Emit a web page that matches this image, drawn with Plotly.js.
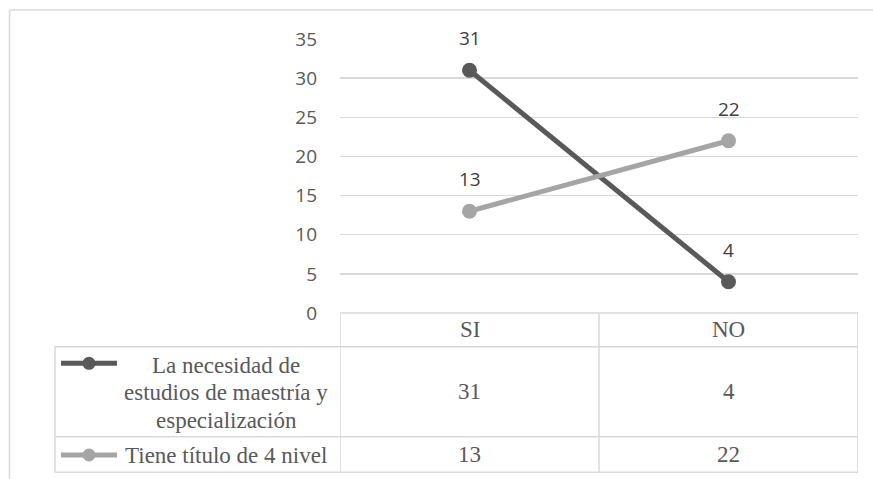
<!DOCTYPE html>
<html>
<head>
<meta charset="utf-8">
<script src="https://cdn.plot.ly/plotly-3.0.1.min.js"></script>
<style>
  html, body { margin: 0; padding: 0; background: #ffffff; }
  #chart { width: 873px; height: 479px; }
</style>
</head>
<body>
<div id="chart"></div>
<script>
// ---- Data ----
const categories = ["SI", "NO"];
const seriesNames = ["La necesidad de estudios de maestría y especialización", "Tiene título de 4 nivel"];
const legendLabelLines = [
  ["La necesidad de", "estudios de maestría y", "especialización"],
  ["Tiene título de 4 nivel"]
];
const necesidadValues = [31, 4];
const tituloValues = [13, 22];
const yTickValues = [0, 5, 10, 15, 20, 25, 30, 35];
const seriesValues = [necesidadValues, tituloValues];
const seriesColors = ["#595959", "#A5A5A5"];

// ---- Layout geometry (pixels) ----
const W = 873, H = 479;
const plotL = 340, plotR = 858, plotT = 39, plotB = 313;
const px = x => (x - plotL) / (plotR - plotL);
const py = y => (plotB - y) / (plotB - plotT);

const gridColor = "#D9D9D9";
const textColor = "#595959";
const serif = "Liberation Serif, Times New Roman, serif";
const sans = "Open Sans, Liberation Sans, sans-serif";

// table rows (pixel y)
const headerTop = 313, headerBot = 346.7, row1Bot = 436.7, row2Bot = 472.3;
const tableLeft = 55;
const rowCenters = [(headerBot + row1Bot) / 2, (row1Bot + row2Bot) / 2];

const traces = seriesValues.map((vals, i) => ({
  type: "scatter",
  mode: "lines+markers",
  name: seriesNames[i],
  x: categories,
  y: vals,
  line: { color: seriesColors[i], width: 5 },
  marker: { color: seriesColors[i], size: 15 },
  cliponaxis: false,
  hoverinfo: "skip",
  showlegend: false
}));

const shapes = [];
const annotations = [];
const lineStyle = { color: gridColor, width: 1.5 };

// outer chart border (top & left visible)
shapes.push({ type: "line", xref: "paper", yref: "paper", x0: px(9.5), x1: px(W), y0: py(10), y1: py(10), line: lineStyle, layer: "below" });
shapes.push({ type: "line", xref: "paper", yref: "paper", x0: px(9.5), x1: px(9.5), y0: py(10), y1: py(H), line: lineStyle, layer: "below" });

// table horizontal lines
shapes.push({ type: "line", xref: "paper", yref: "paper", x0: 0, x1: 1, y0: py(headerTop), y1: py(headerTop), line: lineStyle });
[headerBot, row1Bot, row2Bot].forEach(y => {
  shapes.push({ type: "line", xref: "paper", yref: "paper", x0: px(tableLeft), x1: 1, y0: py(y), y1: py(y), line: lineStyle });
});
// table vertical lines (category boundaries)
[-0.5, 0.5, 1.5].forEach(xv => {
  shapes.push({ type: "line", xref: "x", yref: "paper", x0: xv, x1: xv, y0: py(headerTop), y1: py(row2Bot), line: lineStyle });
});
shapes.push({ type: "line", xref: "paper", yref: "paper", x0: px(tableLeft), x1: px(tableLeft), y0: py(headerBot), y1: py(row2Bot), line: lineStyle });

// header labels
categories.forEach(c => {
  annotations.push({ xref: "x", yref: "paper", x: c, y: py((headerTop + headerBot) / 2), text: c, showarrow: false,
    font: { family: serif, size: 23, color: textColor }, xanchor: "center", yanchor: "middle" });
});

// table values + legend keys + series labels
const keyY = [363.3, 455];
seriesValues.forEach((vals, i) => {
  vals.forEach((v, j) => {
    annotations.push({ xref: "x", yref: "paper", x: categories[j], y: py(rowCenters[i]), text: String(v), showarrow: false,
      font: { family: serif, size: 23, color: textColor }, xanchor: "center", yanchor: "middle" });
  });
  // legend key
  shapes.push({ type: "line", xref: "paper", yref: "paper", x0: px(61), x1: px(117), y0: py(keyY[i]), y1: py(keyY[i]),
    line: { color: seriesColors[i], width: 5 } });
  shapes.push({ type: "circle", xref: "paper", yref: "paper", x0: px(89 - 6.5), x1: px(89 + 6.5), y0: py(keyY[i] - 6.5), y1: py(keyY[i] + 6.5),
    fillcolor: seriesColors[i], line: { width: 0 } });
  // label lines
  const lines = legendLabelLines[i];
  const spacing = 27.3;
  const start = rowCenters[i] - (lines.length - 1) * spacing / 2;
  lines.forEach((t, k) => {
    annotations.push({ xref: "paper", yref: "paper", x: px(226), y: py(start + k * spacing + 1), text: t, showarrow: false,
      font: { family: serif, size: 23, color: textColor }, xanchor: "center", yanchor: "middle" });
  });
});

// data labels above points
seriesValues.forEach((vals, i) => {
  vals.forEach((v, j) => {
    annotations.push({ xref: "x", yref: "y", x: categories[j], y: v, yshift: 32, text: String(v), showarrow: false,
      font: { family: sans, size: 19, color: "#404040" }, xanchor: "center", yanchor: "middle" });
  });
});

const layout = {
  width: W, height: H,
  margin: { l: plotL, r: W - plotR, t: plotT, b: H - plotB },
  paper_bgcolor: "#ffffff",
  plot_bgcolor: "#ffffff",
  showlegend: false,
  xaxis: {
    type: "category",
    categoryarray: categories,
    range: [-0.5, 1.5],
    showgrid: false, zeroline: false, showline: false, showticklabels: false, ticks: "",
    fixedrange: true
  },
  yaxis: {
    range: [0, 35],
    tickvals: yTickValues,
    ticktext: yTickValues.map(String),
    showgrid: true, gridcolor: gridColor, gridwidth: 1.5,
    zeroline: false, showline: false, ticks: "",
    ticklabelstandoff: 22,
    tickfont: { family: sans, size: 19, color: textColor },
    fixedrange: true
  },
  shapes: shapes,
  annotations: annotations
};

Plotly.newPlot("chart", traces, layout, { displayModeBar: false, staticPlot: true });
</script>
</body>
</html>
